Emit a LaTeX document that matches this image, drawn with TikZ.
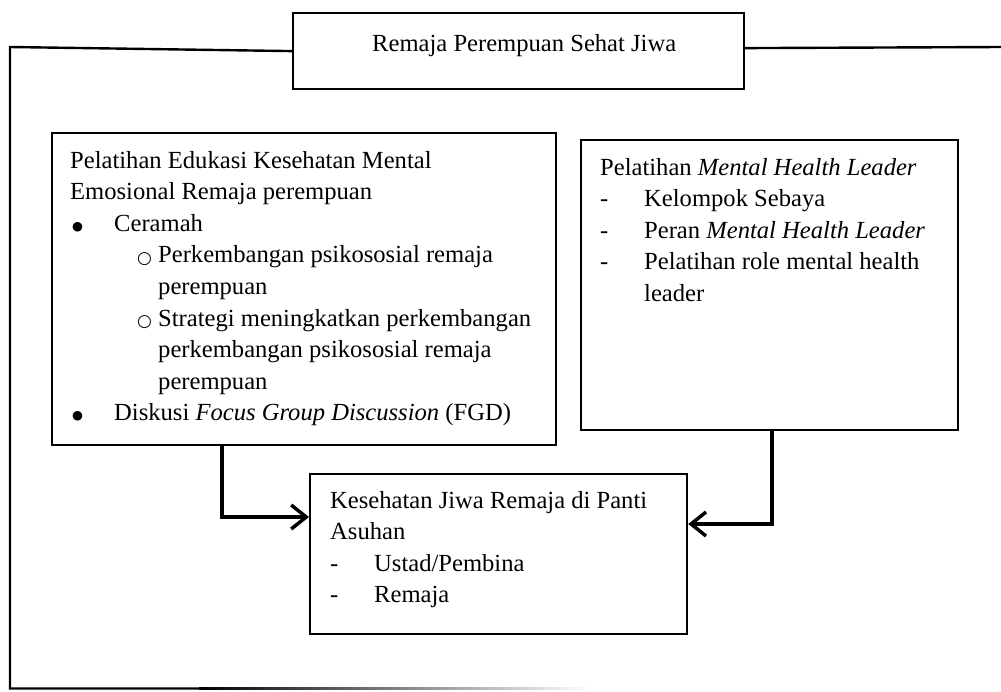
\documentclass[tikz,border=0pt]{standalone}
\usepackage{fontspec}
\setmainfont{Liberation Serif}
\newfontfamily\dejavu{DejaVu Sans}
\usetikzlibrary{arrows.meta}
\newcommand\bulA{\makebox[44pt][l]{\hspace{2pt}\raisebox{1pt}{\dejavu\fontsize{12.5}{12.5}\selectfont ●}}}
\newcommand\subO{\hspace{67pt}\makebox[21pt][l]{\raisebox{-0.5pt}{\dejavu\fontsize{17}{17}\selectfont ○}}}
\newcommand\subC{\hspace{88pt}}
\newcommand\dashI{\makebox[44pt][l]{-}}
\begin{document}
\begin{tikzpicture}[x=1pt,y=-1pt,
  box/.style={draw, line width=2.2pt, inner sep=0pt, anchor=north west},
  txt/.style={anchor=base west, inner sep=0pt, font=\fontsize{24.6}{31.6}\selectfont},
  frame/.style={line width=2.4pt},
  conn/.style={line width=3.5pt, -{Straight Barb[length=15pt,width=24pt]}}]
\useasboundingbox (0,0) rectangle (1001,691);

% boxes
\node[box, minimum width=451pt, minimum height=76pt] (T) at (292,12) {};
\node[box, minimum width=504pt, minimum height=312pt] (A) at (51,132) {};
\node[box, minimum width=377pt, minimum height=290pt] (B) at (580,139) {};
\node[box, minimum width=377pt, minimum height=160pt] (C) at (309,473) {};

% texts
\node[txt] (Tt) at (372,51) {Remaja Perempuan Sehat Jiwa};
\node[txt] (At) at (70,168) {\vtop{%
  \hbox{Pelatihan Edukasi Kesehatan Mental}
  \hbox{Emosional Remaja perempuan}
  \hbox{\bulA Ceramah}
  \hbox{\subO Perkembangan psikososial remaja}
  \hbox{\subC perempuan}
  \hbox{\subO Strategi meningkatkan perkembangan}
  \hbox{\subC perkembangan psikososial remaja}
  \hbox{\subC perempuan}
  \hbox{\bulA Diskusi \textit{Focus Group Discussion} (FGD)}}};
\node[txt] (Bt) at (600,175) {\vtop{%
  \hbox{Pelatihan \textit{Mental Health Leader}}
  \hbox{\dashI Kelompok Sebaya}
  \hbox{\dashI Peran \textit{Mental Health Leader}}
  \hbox{\dashI Pelatihan role mental health}
  \hbox{\hspace{44pt}leader}}};
\node[txt] (Ct) at (330,508) {\vtop{%
  \hbox{Kesehatan Jiwa Remaja di Panti}
  \hbox{Asuhan}
  \hbox{\dashI Ustad/Pembina}
  \hbox{\dashI Remaja}}};

% outer frame
\draw[frame] (T.west) -- (10,47) -- (10,688.5) -- (200,688.5);
\shade[left color=black, right color=white] (199,687.3) rectangle (590,689.7);
\draw[frame] ([yshift=3pt]T.east) -- (1001,47);

% connectors
\coordinate (la) at (222,517);
\coordinate (ra) at (772,524);
\draw[conn] (A.south -| la) |- (C.west |- la);
\draw[conn] (B.south -| ra) |- (C.east |- ra);
\end{tikzpicture}
\end{document}
